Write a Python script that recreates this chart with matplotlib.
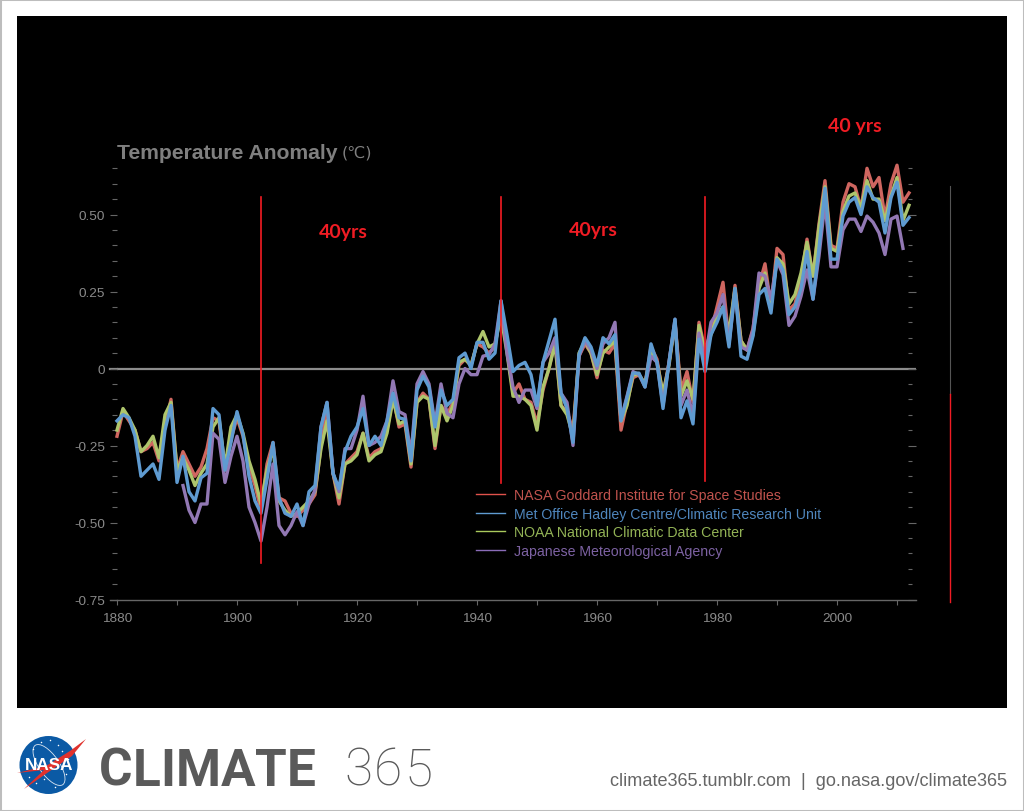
import matplotlib
matplotlib.use("Agg")
import matplotlib.pyplot as plt
from matplotlib.patches import Circle, Ellipse, Polygon, Rectangle
import numpy as np

nan = float("nan")
years = np.arange(1880, 2013)

nasa = [
    -.22, -.14, -.17, -.20, -.27, -.26, -.24, -.30, -.19, -.10,
    -.33, -.27, -.31, -.35, -.32, -.26, -.16, -.17, -.33, -.23,
    -.16, -.22, -.32, -.38, -.46, -.31, -.24, -.42, -.43, -.47,
    -.48, -.46, -.44, -.41, -.25, -.14, -.34, -.44, -.31, -.29,
    -.27, -.21, -.29, -.27, -.26, -.20, -.09, -.19, -.18, -.32,
    -.11, -.08, -.10, -.26, -.12, -.15, -.11, .01, .03, .01,
    .08, .07, .05, .07, .20, .07, -.08, -.05, -.10, -.11,
    -.18, -.07, .00, .09, -.12, -.14, -.20, .04, .08, .05,
    -.03, .06, .05, .08, -.20, -.11, -.03, -.02, -.05, .07,
    .03, -.09, .02, .15, -.07, -.01, -.11, .15, .06, .12,
    .20, .28, .09, .27, .09, .06, .13, .27, .34, .20,
    .39, .37, .19, .21, .29, .42, .30, .47, .61, .40,
    .39, .54, .60, .59, .52, .65, .59, .62, .49, .60,
    .66, .54, .57,
]
hadley = [
    -.17, -.15, -.16, -.22, -.35, -.33, -.31, -.36, -.20, -.12,
    -.37, -.285, -.40, -.43, -.355, -.34, -.13, -.15, -.33, -.24,
    -.14, -.215, -.35, -.43, -.47, -.36, -.24, -.42, -.47, -.48,
    -.44, -.51, -.40, -.38, -.19, -.11, -.34, -.39, -.27, -.22,
    -.19, -.13, -.25, -.22, -.25, -.17, -.08, -.16, -.165, -.30,
    -.07, -.025, -.06, -.19, -.07, -.12, -.10, .035, .05, .00,
    .085, .085, .03, .05, .22, .11, -.01, .01, .02, -.02,
    -.12, .02, .09, .16, -.08, -.13, -.24, .045, .10, .07,
    .01, .10, .08, .11, -.17, -.095, -.015, -.015, -.06, .08,
    .02, -.13, .02, .16, -.16, -.105, -.18, .095, -.01, .11,
    .15, .20, .07, .26, .04, .03, .105, .24, .26, .18,
    .355, .32, .175, .20, .26, .38, .225, .39, .585, .355,
    .355, .495, .54, .555, .50, .59, .555, .54, .44, .555,
    .605, .465, .49,
]
noaa = [
    -.20, -.13, -.16, -.20, -.27, -.25, -.22, -.29, -.15, -.11,
    -.33, -.29, -.33, -.38, -.34, -.31, -.19, -.16, -.32, -.19,
    -.15, -.21, -.30, -.36, -.44, -.33, -.26, -.43, -.46, -.48,
    -.47, -.45, -.43, -.40, -.26, -.17, -.34, -.42, -.31, -.30,
    -.28, -.21, -.30, -.28, -.27, -.21, -.10, -.18, -.17, -.31,
    -.11, -.09, -.10, -.25, -.12, -.17, -.12, .02, .03, .01,
    .08, .12, .07, .08, .17, .05, -.09, -.09, -.10, -.12,
    -.20, -.06, .00, .08, -.12, -.15, -.22, .05, .09, .05,
    -.02, .05, .07, .09, -.17, -.12, -.02, -.02, -.05, .05,
    .02, -.08, .01, .15, -.09, -.04, -.10, .14, .05, .11,
    .17, .20, .12, .26, .09, .06, .11, .26, .31, .20,
    .36, .34, .21, .24, .31, .41, .30, .46, .59, .39,
    .38, .51, .56, .57, .52, .61, .55, .55, .48, .56,
    .62, .48, .53,
]
jma = [
    nan, nan, nan, nan, nan, nan, nan, nan, nan, nan,
    nan, -.38, -.46, -.50, -.44, -.44, -.21, -.23, -.37, -.285,
    -.22, -.30, -.45, -.50, -.56, -.45, -.31, -.51, -.54, -.51,
    -.465, -.51, -.44, -.395, -.19, -.11, -.34, -.40, -.26, -.26,
    -.20, -.09, -.25, -.24, -.22, -.17, -.04, -.14, -.15, -.28,
    -.05, -.01, -.05, -.18, -.05, -.145, -.16, -.05, .00, -.02,
    -.02, .04, .045, .08, .22, .05, -.06, -.11, -.07, -.07,
    -.13, .02, .05, .10, -.08, -.11, -.25, .04, .09, .06,
    .00, .08, .10, .15, -.165, -.09, -.01, -.02, -.06, .04,
    .02, -.12, .02, .16, -.12, -.07, -.155, .115, .03, .15,
    .18, .24, .08, .25, .07, .06, .125, .31, .30, .225,
    .35, .305, .14, .17, .235, .32, .225, .365, .54, .33,
    .33, .45, .485, .485, .445, .495, .475, .44, .37, .485,
    .495, .39, nan,
]

labels = [
    "NASA Goddard Institute for Space Studies",
    "Met Office Hadley Centre/Climatic Research Unit",
    "NOAA National Climatic Data Center",
    "Japanese Meteorological Agency",
]
x_ticks = [1880, 1900, 1920, 1940, 1960, 1980, 2000]
y_ticks = [-.75, -.5, -.25, 0, .25, .5]
y_tick_labels = ["-0.75", "-0.50", "-0.25", "0", "0.25", "0.50"]
marker_years = [1904, 1944, 1978]
marker_low = [-.633, -.373, -.364]
marker_high = .558

W, H = 1024, 812
plt.rcParams["font.family"] = ["Liberation Sans", "DejaVu Sans"]
fig = plt.figure(figsize=(W / 100, H / 100), dpi=100, facecolor="white")

# page furniture in pixel coordinates
page = fig.add_axes([0, 0, 1, 1])
page.set_xlim(0, W)
page.set_ylim(H, 0)
page.axis("off")
page.add_patch(Rectangle((0, 0), W, H, fc="white", ec="#bdbdbd", lw=2.2))
page.add_patch(Rectangle((17, 17), 990, 692, fc="black", ec="none", snap=True))


def spaced(x, y, s, tracking, **kw):
    r = fig.canvas.get_renderer()
    for ch in s:
        t = page.text(x, y, ch, ha="left", va="baseline", **kw)
        x = t.get_window_extent(r).x1 + tracking


# NASA logo
page.add_patch(Circle((48.5, 766), 29, fc="#0b5aa5", ec="none", zorder=2))
page.add_patch(Ellipse((49, 766), 20, 48, angle=-35, fc="none", ec="#dbe6f2", lw=.6, zorder=3))
page.add_patch(Polygon([(17, 774), (46, 767), (70, 752), (86, 740), (72, 757), (50, 772), (24, 790), (44, 771)],
                       fc="#e0322d", ec="none", zorder=3))
page.scatter([33, 41, 50, 58, 62, 68, 29, 36, 55, 66, 44], [750, 743, 741, 746, 752, 760, 778, 784, 788, 775, 780],
             s=1.2, color="white", linewidths=0, zorder=3)
page.text(49, 765.5, "NASA", color="white", fontsize=12.3, fontweight="bold", ha="center",
          va="center", zorder=4)

spaced(99, 786, "CLIMATE", 0, family="Roboto", fontweight="bold", fontsize=37, color="#5a5a5a")
spaced(344, 786, "365", 2, family="Roboto", fontweight="light", fontsize=37, color="#5a5a5a")
page.text(1007, 782, "climate365.tumblr.com  |  go.nasa.gov/climate365", ha="right", va="center",
          fontsize=13.1, color="#666666")

# chart axes: 1880 at x=117, 6 px per year; 0 at y=369.5, 308 px per degree
ax = fig.add_axes([117 / W, 1 - 600.5 / H, 799 / W, 440.5 / H], facecolor="none")
ax.set_xlim(1880, 1880 + 799 / 6)
ax.set_ylim(-.75, -.75 + 440.5 / 308)

grey = "#8c8c8c"
ax.axhline(0, color=grey, lw=1.6, zorder=1)
ax.plot([1878.8, 1880], [0, 0], color=grey, lw=1.6, clip_on=False, zorder=1)
ax.plot([1878.8, 1880], [-.75, -.75], color="#666666", lw=1, clip_on=False, zorder=1)

red = "#cf6660"
blue = "#5f9bd1"
green = "#aec56c"
purple = "#9278b4"
lw = 2.4
ax.plot(years, nasa, color=red, lw=lw, zorder=3, clip_on=False)
ax.plot(years, noaa, color=green, lw=lw, zorder=4, clip_on=False)
ax.plot(years, jma, color=purple, lw=lw, zorder=5, clip_on=False)
ax.plot(years, hadley, color=blue, lw=lw, zorder=6, clip_on=False)

for yr, low in zip(marker_years, marker_low):
    ax.plot([yr, yr], [low, marker_high], color="#f41c24", lw=1.2, zorder=7)

# right-hand bracket, outside the plot
ax.plot([2018.8, 2018.8], [.591, -.084], color="#555555", lw=.8, clip_on=False)
ax.plot([2018.8, 2018.8], [-.084, -.757], color="#f01c24", lw=1, clip_on=False)

ann = dict(color="#f01c24", family="Lato", fontweight="bold", fontsize=14, ha="center", va="center")
ax.text(1917.7, .444, "40yrs", **ann)
ax.text(1959.3, .452, "40yrs", **ann)
ax.text(2003, .79, "40 yrs", clip_on=False, **ann)

ax.set_xticks(x_ticks)
ax.set_xticks(np.arange(1880, 2011, 10), minor=True)
ax.set_yticks(y_ticks, y_tick_labels)
ax.set_yticks(np.arange(-.75, .66, .05), minor=True)
px = 72 / 100
ax.tick_params(axis="x", which="both", direction="out", color="#666666", length=5 * px, width=.8,
               labelcolor="#8a8a8a", labelsize=9.7, pad=5.3)
ax.tick_params(axis="y", which="major", direction="out", color="#666666", length=7 * px, width=.8,
               labelcolor="#8a8a8a", labelsize=9.7, pad=3.5)
ax.tick_params(axis="y", which="minor", direction="out", color="#666666", length=5 * px, width=.8)
for side in ["left", "right", "top"]:
    ax.spines[side].set_visible(False)
ax.spines["bottom"].set_color("#666666")
ax.spines["bottom"].set_linewidth(1)

# tick marks on the right side, standing just inside the axes edge
ax2 = ax.twinx()
ax2.set_ylim(ax.get_ylim())
ax2.set_yticks(y_ticks, [""] * len(y_ticks))
ax2.set_yticks(np.arange(-.75, .66, .05), minor=True)
ax2.tick_params(axis="y", which="major", direction="out", color="#666666", length=8 * px, width=.8)
ax2.tick_params(axis="y", which="minor", direction="out", color="#666666", length=4 * px, width=.8)
ax2.spines["right"].set_position(("outward", -8 * px))
for s in ax2.spines.values():
    s.set_visible(False)
ax2.patch.set_visible(False)

page.text(117, 153.5, "Temperature Anomaly", color="#7f7f7f", fontsize=15.2, fontweight="bold",
          ha="left", va="center")
page.text(342, 152.5, "(℃)", color="#7f7f7f", fontsize=11.5, ha="left", va="center",
          family=["DejaVu Sans"])

# legend
handles = [plt.Line2D([], [], color=c, lw=1) for c in ("#e0524c", "#5f9bd1", "#a9c95c", "#8a6cb8")]
leg = ax.legend(handles, labels, loc="upper left", frameon=False, fontsize=10.2,
                bbox_to_anchor=((476 - 117) / 799, (600.5 - 489) / 440.5),
                handlelength=2.05, handletextpad=.63, labelspacing=.33, borderpad=0, borderaxespad=0)
for t, c in zip(leg.get_texts(), ("#c0534e", "#4f86bd", "#93b356", "#7d62a3")):
    t.set_color(c)
leg.set_zorder(8)

fig.savefig("out.png", dpi=100, facecolor="white")
